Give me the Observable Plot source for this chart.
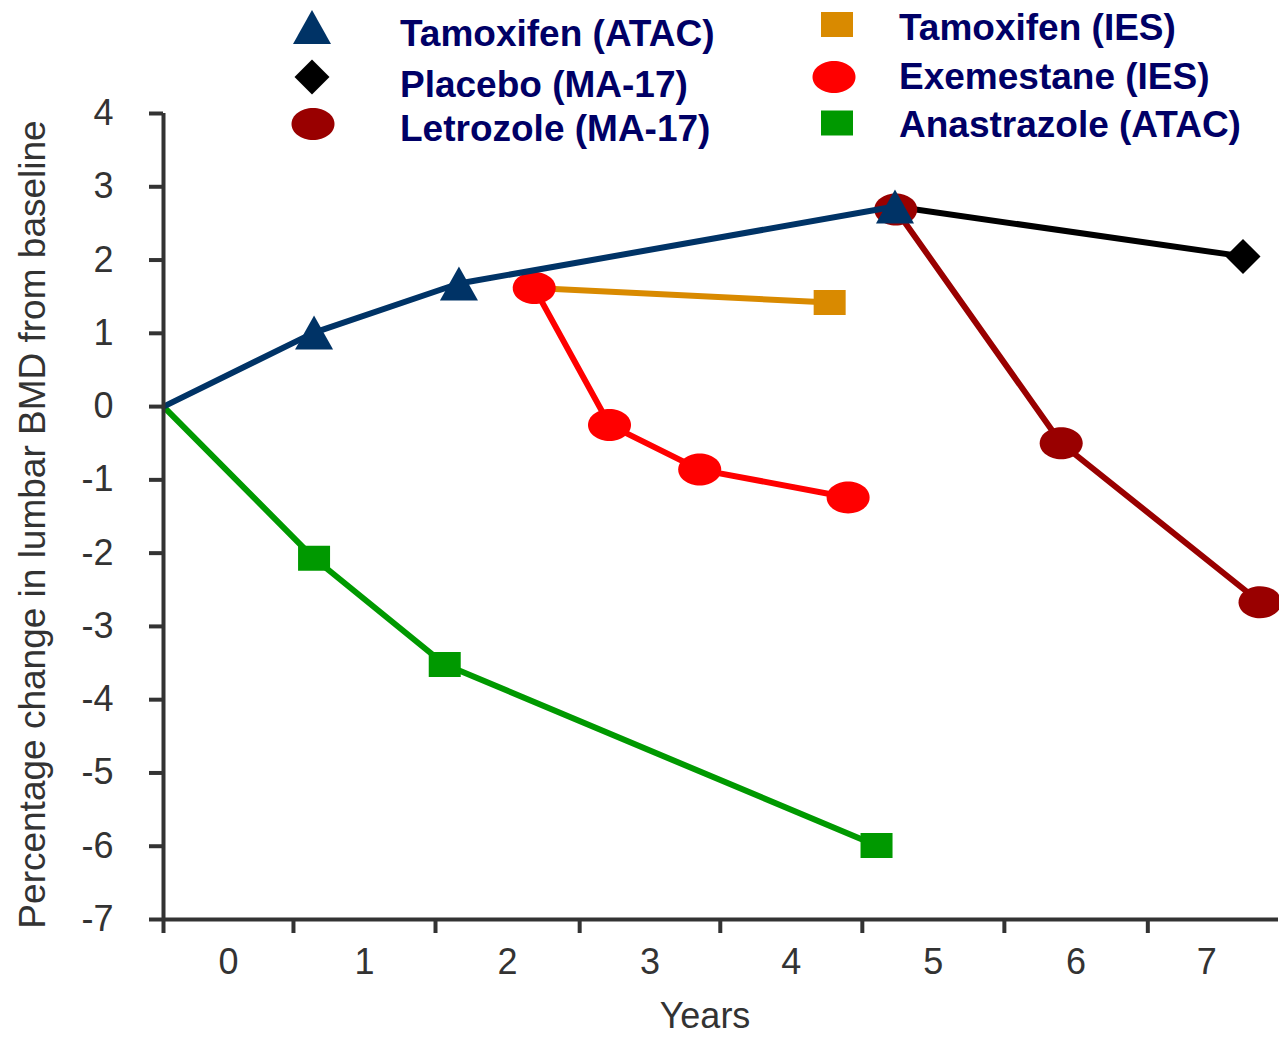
<!DOCTYPE html>
<html>
<head>
<meta charset="utf-8">
<script src="https://cdn.jsdelivr.net/npm/d3@7"></script>
<script src="https://cdn.jsdelivr.net/npm/@observablehq/plot@0.6"></script>
<style>
  html, body { margin: 0; padding: 0; background: #ffffff; }
  #wrap { position: relative; width: 1279px; height: 1037px; overflow: hidden; font-family: "Liberation Sans", Arial, sans-serif; }
  #legend { position: absolute; left: 0; top: 0; }
</style>
</head>
<body>
<div id="wrap"><div id="chart"></div></div>
<script>
// ---------- data ----------
const yTitle = "Percentage change in lumbar BMD from baseline";
const xTitle = "Years";
const xBoundaries = [0, 0.915, 1.915, 2.93, 3.92, 4.92, 5.92, 6.93, 7.76];
const xLabels = ["0", "1", "2", "3", "4", "5", "6", "7"];
const yTicks = [-7, -6, -5, -4, -3, -2, -1, 0, 1, 2, 3, 4];

const anastrazoleYears = [0, 1.06, 1.98, 5.02];
const anastrazoleBMD   = [0, -2.07, -3.52, -5.99];

const tamoxifenIESYears = [2.61, 4.69];
const tamoxifenIESBMD   = [1.62, 1.42];

const exemestaneYears = [2.61, 3.14, 3.775, 4.82];
const exemestaneBMD   = [1.62, -0.25, -0.86, -1.24];

const placeboYears = [5.15, 7.6];
const placeboBMD   = [2.73, 2.05];

const letrozoleYears = [5.155, 6.32, 7.72];
const letrozoleBMD   = [2.69, -0.50, -2.67];

const tamoxifenATACYears = [0, 1.06, 2.08, 5.15];
const tamoxifenATACBMD   = [0, 1.01, 1.68, 2.73];

// ---------- shapes (custom symbols) ----------
function ellipseSym(w, h) {
  return { draw(c) {
    const a = w / 2, b = h / 2, k = 0.5523;
    c.moveTo(a, 0);
    c.bezierCurveTo(a, k * b, k * a, b, 0, b);
    c.bezierCurveTo(-k * a, b, -a, k * b, -a, 0);
    c.bezierCurveTo(-a, -k * b, -k * a, -b, 0, -b);
    c.bezierCurveTo(k * a, -b, a, -k * b, a, 0);
    c.closePath();
  }};
}
function rectSym(w, h) {
  return { draw(c) {
    c.moveTo(-w / 2, -h / 2); c.lineTo(w / 2, -h / 2); c.lineTo(w / 2, h / 2); c.lineTo(-w / 2, h / 2); c.closePath();
  }};
}
function triSym(w, h) {
  return { draw(c) {
    c.moveTo(0, -h / 2); c.lineTo(w / 2, h / 2); c.lineTo(-w / 2, h / 2); c.closePath();
  }};
}
function diamondSym(w, h) {
  return { draw(c) {
    c.moveTo(0, -h / 2); c.lineTo(w / 2, 0); c.lineTo(0, h / 2); c.lineTo(-w / 2, 0); c.closePath();
  }};
}
const shapes = {
  triangle: triSym(38, 34),
  diamond: diamondSym(35, 35),
  ellipse: ellipseSym(43, 32),
  square: rectSym(32, 25)
};

// draw order: first is bottom-most
const series = [
  { name: "Anastrazole (ATAC)", years: anastrazoleYears, values: anastrazoleBMD, color: "#009900", shape: "square", firstMarker: 1 },
  { name: "Tamoxifen (IES)", years: tamoxifenIESYears, values: tamoxifenIESBMD, color: "#D98A00", shape: "square", firstMarker: 1 },
  { name: "Exemestane (IES)", years: exemestaneYears, values: exemestaneBMD, color: "#FF0000", shape: "ellipse", firstMarker: 0 },
  { name: "Placebo (MA-17)", years: placeboYears, values: placeboBMD, color: "#000000", shape: "diamond", firstMarker: 1 },
  { name: "Letrozole (MA-17)", years: letrozoleYears, values: letrozoleBMD, color: "#990000", shape: "ellipse", firstMarker: 0 },
  { name: "Tamoxifen (ATAC)", years: tamoxifenATACYears, values: tamoxifenATACBMD, color: "#003366", shape: "triangle", firstMarker: 1 }
];

// legend layout
const legendLayout = [
  { name: "Tamoxifen (ATAC)", sx: 312, sy: 27, tx: 400, ty: 46 },
  { name: "Placebo (MA-17)", sx: 312, sy: 77, tx: 400, ty: 97 },
  { name: "Letrozole (MA-17)", sx: 313, sy: 124, tx: 400, ty: 141 },
  { name: "Tamoxifen (IES)", sx: 837, sy: 24.5, tx: 899, ty: 40 },
  { name: "Exemestane (IES)", sx: 834, sy: 77, tx: 899, ty: 89 },
  { name: "Anastrazole (ATAC)", sx: 837, sy: 123, tx: 899, ty: 137 }
];

// ---------- build ----------
const axisColor = "#333333";
const xTickPos = xBoundaries.slice(0, -1);
const xLabelPos = xLabels.map((_, i) => (xBoundaries[i] + xBoundaries[i + 1]) / 2);

const marks = [];
for (const s of series) {
  const rows = s.years.map((x, i) => ({ x, y: s.values[i], i }));
  marks.push(Plot.line(rows, { x: "x", y: "y", stroke: s.color, strokeWidth: 6, strokeLinejoin: "round", strokeLinecap: "butt" }));
  marks.push(Plot.dot(rows.filter(d => d.i >= s.firstMarker), { x: "x", y: "y", symbol: shapes[s.shape], r: 10, fill: s.color, stroke: "none" }));
}

const chart = Plot.plot({
  width: 1279,
  height: 1037,
  marginLeft: 163,
  marginRight: 1,
  marginTop: 113,
  marginBottom: 118,
  x: { domain: [0, 7.85] },
  y: { domain: [-7, 4] },
  style: { fontFamily: "'Liberation Sans', Arial, sans-serif", fontSize: "36px", background: "#ffffff", color: axisColor, overflow: "visible" },
  marks: [
    ...marks,
    Plot.ruleX([0], { y1: -7, y2: 4, stroke: axisColor, strokeWidth: 4 }),
    Plot.ruleY([-7], { x1: 0, x2: 7.85, stroke: axisColor, strokeWidth: 4 }),
    Plot.axisY({ ticks: yTicks, tickSize: 14, tickPadding: 36, tickFormat: d => String(d), stroke: axisColor, strokeWidth: 4, fill: axisColor, fontSize: 36, label: null }),
    Plot.axisX({ ticks: xTickPos, tickSize: 14, tickFormat: () => "", stroke: axisColor, strokeWidth: 4, label: null }),
    Plot.axisX({ ticks: xLabelPos, tickSize: 0, tickPadding: 29, tickFormat: d => xLabels[xLabelPos.indexOf(d)], fill: axisColor, fontSize: 36, label: null }),
    Plot.text([xTitle], { frameAnchor: "bottom", text: d => d, textAnchor: "middle", dx: -16, dy: 97, fontSize: 36, fill: axisColor, lineAnchor: "middle" }),
    Plot.text([yTitle], { frameAnchor: "left", text: d => d, textAnchor: "middle", rotate: -90, dx: -130, dy: 8, fontSize: 37, fill: axisColor, lineAnchor: "middle" })
  ]
});
document.getElementById("chart").appendChild(chart);

// legend overlay
const byName = new Map(series.map(s => [s.name, s]));
const lg = d3.select("#wrap").append("svg")
  .attr("id", "legend")
  .attr("width", 1279).attr("height", 160);
for (const item of legendLayout) {
  const s = byName.get(item.name);
  lg.append("path")
    .attr("d", d3.symbol(shapes[s.shape])())
    .attr("transform", `translate(${item.sx},${item.sy})`)
    .attr("fill", s.color);
  lg.append("text")
    .attr("x", item.tx).attr("y", item.ty)
    .attr("font-family", "'Liberation Sans', Arial, sans-serif")
    .attr("font-weight", "bold")
    .attr("font-size", 37)
    .attr("fill", "#000066")
    .text(item.name);
}
</script>
</body>
</html>
